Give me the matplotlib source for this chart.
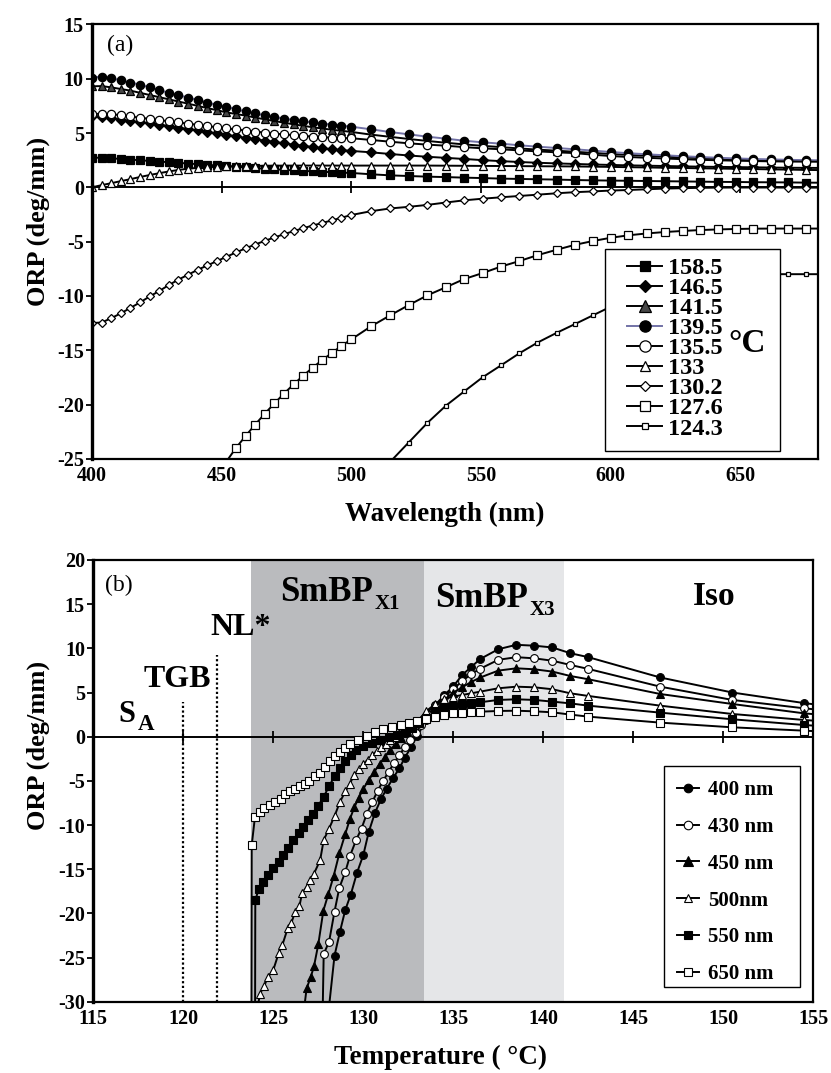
import numpy as np
import matplotlib
matplotlib.use('Agg')
import matplotlib.pyplot as plt
from matplotlib.patches import Rectangle

plt.rcParams['font.family'] = ['Liberation Serif', 'DejaVu Serif']
plt.rcParams['font.weight'] = 'bold'
plt.rcParams['axes.labelweight'] = 'bold'
plt.rcParams['axes.unicode_minus'] = False

nan = np.nan

# ---------------- panel (a): ORP vs wavelength ----------------
wavelength = [400.0, 403.7, 407.4, 411.1, 414.8, 418.5, 422.2, 425.9, 429.6, 433.3,
              437.0, 440.7, 444.4, 448.1, 451.8, 455.5, 459.2, 462.9, 466.6, 470.3,
              474.0, 477.7, 481.4, 485.1, 488.8, 492.5, 496.2, 500.0,
              507.6, 514.9, 522.1, 529.3, 536.5, 543.5, 550.6, 557.7, 564.7, 571.8,
              579.2, 586.2, 593.1, 600.0, 606.9, 613.9, 620.8, 627.8, 634.4, 641.3,
              648.2, 655.0, 661.8, 668.6, 675.3, 682.2]

orp_158_5 = [2.73, 2.72, 2.67, 2.61, 2.55, 2.49, 2.43, 2.37, 2.31, 2.25,
             2.19, 2.13, 2.07, 2.01, 1.95, 1.89, 1.83, 1.77, 1.71, 1.66,
             1.61, 1.56, 1.51, 1.47, 1.43, 1.39, 1.35, 1.32,
             1.2, 1.1, 1.04, 0.98, 0.94, 0.89, 0.85, 0.8, 0.77, 0.74,
             0.71, 0.67, 0.64, 0.62, 0.6, 0.58, 0.56, 0.54, 0.52, 0.5,
             0.49, 0.47, 0.46, 0.45, 0.43, 0.42]
orp_146_5 = [6.6, 6.5, 6.42, 6.2, 6.1, 6.0, 5.88, 5.76, 5.64, 5.5,
             5.36, 5.24, 5.1, 4.97, 4.83, 4.7, 4.55, 4.42, 4.3, 4.18,
             4.05, 3.93, 3.82, 3.71, 3.6, 3.5, 3.42, 3.35,
             3.22, 3.07, 2.93, 2.81, 2.71, 2.61, 2.5, 2.41, 2.33, 2.26,
             2.2, 2.15, 2.1, 2.06, 2.02, 1.99, 1.96, 1.93, 1.9, 1.88,
             1.86, 1.84, 1.82, 1.8, 1.79, 1.78]
orp_141_5 = [9.3, 9.32, 9.2, 9.05, 8.9, 8.7, 8.5, 8.3, 8.1, 7.9,
             7.7, 7.5, 7.3, 7.1, 6.9, 6.75, 6.6, 6.42, 6.26, 6.1,
             5.95, 5.8, 5.66, 5.53, 5.41, 5.3, 5.2, 5.1,
             4.85, 4.65, 4.45, 4.27, 4.1, 3.95, 3.82, 3.7, 3.58, 3.47,
             3.37, 3.27, 3.17, 3.07, 2.98, 2.9, 2.82, 2.75, 2.69, 2.63,
             2.58, 2.53, 2.49, 2.46, 2.44, 2.42]
orp_139_5 = [10.1, 10.2, 10.05, 9.85, 9.65, 9.45, 9.2, 8.95, 8.7, 8.5,
             8.25, 8.05, 7.8, 7.6, 7.4, 7.2, 6.98, 6.8, 6.63, 6.48,
             6.33, 6.2, 6.08, 5.97, 5.87, 5.78, 5.68, 5.58,
             5.34, 5.09, 4.88, 4.66, 4.48, 4.29, 4.14, 4.02, 3.87, 3.74,
             3.62, 3.5, 3.38, 3.25, 3.14, 3.04, 2.95, 2.86, 2.79, 2.72,
             2.66, 2.61, 2.57, 2.53, 2.5, 2.48]
orp_135_5 = [6.75, 6.77, 6.73, 6.64, 6.52, 6.41, 6.3, 6.19, 6.08, 5.97,
             5.86, 5.75, 5.64, 5.53, 5.43, 5.33, 5.23, 5.13, 5.04, 4.95,
             4.87, 4.8, 4.73, 4.67, 4.62, 4.57, 4.54, 4.52,
             4.36, 4.2, 4.05, 3.93, 3.83, 3.7, 3.59, 3.5, 3.4, 3.31,
             3.22, 3.15, 3.0, 2.88, 2.79, 2.72, 2.65, 2.59, 2.53, 2.49,
             2.45, 2.42, 2.39, 2.37, 2.36, 2.35]
orp_133 = [0.0, 0.2, 0.38, 0.57, 0.75, 0.95, 1.13, 1.3, 1.46, 1.6,
           1.71, 1.79, 1.85, 1.89, 1.92, 1.94, 1.96, 1.97, 1.98, 1.99,
           2.0, 2.0, 2.0, 2.0, 2.0, 2.0, 2.0, 2.0,
           2.0, 2.0, 2.0, 2.0, 1.99, 1.98, 1.97, 1.96, 1.95, 1.94,
           1.93, 1.92, 1.9, 1.88, 1.85, 1.83, 1.8, 1.78, 1.75, 1.73,
           1.7, 1.68, 1.65, 1.63, 1.6, 1.58]
orp_130_2 = [-12.5, -12.45, -12.05, -11.6, -11.1, -10.6, -10.05, -9.55, -9.0, -8.5,
             -8.05, -7.6, -7.2, -6.8, -6.4, -6.0, -5.62, -5.27, -4.93, -4.62,
             -4.32, -4.04, -3.77, -3.52, -3.28, -3.05, -2.8, -2.55,
             -2.2, -1.95, -1.8, -1.62, -1.4, -1.2, -1.05, -0.92, -0.8, -0.68,
             -0.55, -0.45, -0.38, -0.3, -0.25, -0.18, -0.12, -0.08, -0.05, -0.03,
             -0.02, -0.02, -0.02, -0.03, -0.03, -0.03]
orp_127_6 = [nan, nan, nan, nan, nan, nan, nan, nan, nan, nan,
             nan, nan, nan, nan, -25.25, -24.0, -22.9, -21.85, -20.85, -19.9,
             -19.0, -18.15, -17.35, -16.6, -15.9, -15.25, -14.6, -14.0,
             -12.8, -11.8, -10.85, -9.95, -9.2, -8.45, -7.9, -7.3, -6.8, -6.25,
             -5.75, -5.3, -4.95, -4.65, -4.42, -4.25, -4.12, -4.02, -3.94, -3.88,
             -3.84, -3.81, -3.8, -3.8, -3.8, -3.8]
orp_124_3 = [nan, nan, nan, nan, nan, nan, nan, nan, nan, nan,
             nan, nan, nan, nan, nan, nan, nan, nan, nan, nan,
             nan, nan, nan, nan, nan, nan, nan, nan,
             nan, -25.3, -23.5, -21.7, -20.1, -18.8, -17.5, -16.4, -15.3, -14.3,
             -13.4, -12.6, -11.8, -11.0, -10.3, -9.7, -9.2, -8.8, -8.5, -8.3,
             -8.15, -8.05, -8.0, -8.0, -8.0, -8.0]

temps_a = ['158.5', '146.5', '141.5', '139.5', '135.5', '133', '130.2', '127.6', '124.3']
series_a = [orp_158_5, orp_146_5, orp_141_5, orp_139_5, orp_135_5,
            orp_133, orp_130_2, orp_127_6, orp_124_3]

# ---------------- panel (b): ORP vs temperature ----------------
t_400 = [128.1, 128.4, 128.7, 129.0, 129.3, 129.65, 130.0, 130.3, 130.65, 131.0,
         131.3, 131.65, 132.0, 132.3, 132.65, 133.0, 133.5, 134.0, 134.5, 135.0,
         135.5, 136.0, 136.5, 137.5, 138.5, 139.5, 140.5, 141.5, 142.5, 146.5,
         150.5, 154.5, 156.5]
v_400 = [-30.5, -24.8, -22.1, -19.6, -17.9, -15.4, -13.4, -10.8, -8.6, -7.0,
         -5.9, -4.7, -3.6, -2.4, -1.2, 0.1, 1.9, 3.6, 4.7, 5.7,
         7.0, 7.9, 8.8, 9.9, 10.4, 10.3, 10.1, 9.45, 9.0, 6.7,
         5.0, 3.8, 3.3]
t_430 = [127.7, 127.8, 128.1, 128.4, 128.67, 129.0, 129.26, 129.6, 129.9, 130.2,
         130.5, 130.8, 131.1, 131.4, 131.7, 132.0, 132.3, 132.6, 132.9, 133.2,
         133.6, 134.0, 134.5, 135.0, 135.5, 136.0, 136.5, 137.5, 138.5, 139.5,
         140.5, 141.5, 142.5, 146.5, 150.5, 154.5, 156.5]
v_430 = [-36.0, -24.6, -23.2, -19.8, -17.1, -15.3, -13.5, -11.7, -10.4, -8.7,
         -7.4, -6.1, -5.0, -4.0, -3.0, -2.1, -1.2, -0.4, 0.4, 1.3,
         2.4, 3.5, 4.5, 5.4, 6.3, 7.1, 7.7, 8.7, 9.0, 8.87,
         8.6, 8.12, 7.67, 5.66, 4.16, 3.21, 2.8]
t_450 = [126.7, 126.85, 127.08, 127.26, 127.5, 127.78, 128.06, 128.35, 128.67, 129.0,
         129.26, 129.5, 129.75, 130.0, 130.3, 130.6, 130.9, 131.2, 131.5, 131.8,
         132.1, 132.4, 132.7, 133.0, 133.5, 134.0, 134.5, 135.0, 135.5, 136.0,
         136.5, 137.5, 138.5, 139.5, 140.5, 141.5, 142.5, 146.5, 150.5, 154.5,
         156.5]
v_450 = [-31.0, -28.5, -27.2, -26.0, -23.5, -19.7, -17.8, -15.8, -13.2, -11.0,
         -9.3, -8.0, -6.9, -5.9, -4.9, -4.0, -3.1, -2.3, -1.5, -0.8,
         -0.1, 0.6, 1.2, 1.8, 2.7, 3.5, 4.2, 5.0, 5.6, 6.2,
         6.7, 7.48, 7.74, 7.63, 7.37, 6.87, 6.5, 4.83, 3.7, 2.64,
         2.3]
t_500 = [124.1, 124.26, 124.5, 124.7, 125.0, 125.3, 125.5, 125.8, 126.0, 126.2,
         126.45, 126.6, 126.85, 127.05, 127.26, 127.6, 127.8, 128.1, 128.4, 128.7,
         129.0, 129.26, 129.5, 129.75, 130.0, 130.25, 130.5, 130.75, 131.0, 131.25,
         131.5, 131.75, 132.0, 132.3, 132.6, 133.0, 133.5, 134.0, 134.5, 135.0,
         135.5, 136.0, 136.5, 137.5, 138.5, 139.5, 140.5, 141.5, 142.5, 146.5,
         150.5, 154.5, 156.5]
v_500 = [-31.0, -29.1, -28.2, -27.2, -26.4, -24.5, -23.6, -21.7, -21.1, -19.9,
         -19.2, -17.7, -17.0, -16.2, -15.5, -14.0, -11.7, -10.4, -9.0, -7.4,
         -6.2, -5.3, -4.3, -3.7, -3.1, -2.6, -2.1, -1.6, -1.2, -0.8,
         -0.4, 0.0, 0.4, 0.8, 1.2, 1.7, 2.9, 3.7, 4.27, 4.53,
         4.72, 4.91, 5.1, 5.48, 5.66, 5.59, 5.37, 4.91, 4.61, 3.51,
         2.57, 1.89, 1.6]
t_550 = [123.98, 124.0, 124.2, 124.45, 124.7, 125.0, 125.3, 125.55, 125.8, 126.1,
         126.4, 126.65, 126.9, 127.2, 127.5, 127.8, 128.1, 128.4, 128.7, 129.0,
         129.3, 129.6, 130.0, 130.5, 130.9, 131.4, 131.85, 132.3, 132.7, 133.1,
         133.5, 134.0, 134.5, 135.0, 135.5, 136.0, 136.5, 137.5, 138.5, 139.5,
         140.5, 141.5, 142.5, 146.5, 150.5, 154.5, 156.5]
v_550 = [-40.0, -18.5, -17.2, -16.4, -15.7, -14.9, -14.2, -13.4, -12.6, -11.7,
         -10.9, -10.2, -9.4, -8.7, -7.8, -6.8, -5.6, -4.5, -3.6, -2.8,
         -2.1, -1.5, -1.05, -0.68, -0.37, -0.07, 0.19, 0.55, 0.95, 1.5,
         2.1, 2.9, 3.4, 3.51, 3.66, 3.77, 3.9, 4.16, 4.23, 4.16,
         3.97, 3.77, 3.51, 2.72, 1.97, 1.32, 1.05]
t_650 = [123.78, 123.8, 123.98, 124.26, 124.5, 124.8, 125.1, 125.4, 125.65, 125.9,
         126.2, 126.5, 126.75, 127.0, 127.3, 127.6, 127.85, 128.15, 128.4, 128.7,
         129.0, 129.26, 129.7, 130.2, 130.65, 131.1, 131.6, 132.1, 132.55, 133.0,
         133.5, 134.0, 134.5, 135.0, 135.5, 136.0, 136.5, 137.5, 138.5, 139.5,
         140.5, 141.5, 142.5, 146.5, 150.5, 154.5, 156.5]
v_650 = [-40.0, -12.3, -9.1, -8.5, -8.1, -7.7, -7.4, -7.0, -6.5, -6.2,
         -5.9, -5.6, -5.3, -5.0, -4.5, -4.1, -3.4, -2.7, -2.2, -1.7,
         -1.25, -0.8, -0.37, 0.1, 0.57, 0.9, 1.13, 1.3, 1.6, 1.8,
         1.97, 2.2, 2.45, 2.64, 2.72, 2.8, 2.83, 2.91, 2.94, 2.87,
         2.76, 2.5, 2.27, 1.59, 1.06, 0.68, 0.5]

labels_b = ['400 nm', '430 nm', '450 nm', '500nm', '550 nm', '650 nm']
series_b = [(t_400, v_400), (t_430, v_430), (t_450, v_450),
            (t_500, v_500), (t_550, v_550), (t_650, v_650)]

phase_bounds = [123.76, 133.37, 141.15]
transition_T = [120.0, 121.85]
transition_top = [3.96, 9.25]

# ---------------- figure ----------------
W, H = 831, 1073
fig = plt.figure(figsize=(W / 100, H / 100), dpi=100)


def fx(px):
    return px / W


def fy(py):
    return 1 - py / H


ax1 = fig.add_axes([fx(92.1), fy(458.8), (818 - 92.1) / W, (458.8 - 24.4) / H])
ax2 = fig.add_axes([fx(93.3), fy(1001.7), (813.3 - 93.3) / W, (1001.7 - 560) / H])

xlim1, ylim1 = (400, 680), (-25, 15)
xlim2, ylim2 = (115, 155), (-30, 20)

style_a = [
    dict(marker='s', ms=5.2, mfc='black', mec='black', color='black'),
    dict(marker='D', ms=4.6, mfc='black', mec='black', color='black'),
    dict(marker='^', ms=6.3, mfc='#474747', mec='black', color='black'),
    dict(marker='o', ms=6.0, mfc='black', mec='black', color='#7272a6'),
    dict(marker='o', ms=6.0, mfc='white', mec='black', color='black'),
    dict(marker='^', ms=5.6, mfc='white', mec='black', color='black'),
    dict(marker='D', ms=3.9, mfc='white', mec='black', color='black'),
    dict(marker='s', ms=5.4, mfc='white', mec='black', color='black'),
    dict(marker='s', ms=3.4, mfc='white', mec='black', color='black'),
]

handles_a = []
for lab, vals, st in zip(temps_a, series_a, style_a):
    x = np.array(wavelength)
    y = np.array(vals, dtype=float)
    mk = [i for i in range(len(x)) if np.isfinite(y[i]) and y[i] >= ylim1[0] and x[i] <= xlim1[1]]
    ln, = ax1.plot(x, y, lw=1.4, mew=0.9, markevery=mk, label=lab, zorder=2, **st)
    handles_a.append(ln)

ax1.set_xlim(*xlim1)
ax1.set_ylim(*ylim1)
ax1.set_xticks([400, 450, 500, 550, 600, 650])
ax1.set_yticks([-25, -20, -15, -10, -5, 0, 5, 10, 15])
ax1.tick_params(axis='x', length=0, pad=5, labelsize=14.5)
ax1.tick_params(axis='y', direction='out', length=4.5, width=1.3, pad=1.5, labelsize=14.5)

# zero line with crossing ticks
sec1 = ax1.secondary_xaxis((0 - ylim1[0]) / (ylim1[1] - ylim1[0]))
sec1.set_xticks([400, 450, 500, 550, 600, 650])
sec1.xaxis.set_ticks_position('bottom')
sec1.tick_params(axis='x', direction='inout', length=8, width=1.3, labelbottom=False, labeltop=False)
for s in sec1.spines.values():
    s.set_linewidth(1.4)

for k, s in ax1.spines.items():
    s.set_linewidth(1.6)
ax1.spines['left'].set_linewidth(2.4)

ax1.set_xlabel('Wavelength (nm)', fontsize=19.5, fontweight='bold', va='center')
ax1.xaxis.set_label_coords((445 - 92.1) / 725.9, -(514 - 458.8) / 434.4)
ax1.set_ylabel('ORP (deg/mm)', fontsize=19, fontweight='bold', va='center')
ax1.yaxis.set_label_coords((38 - 92.1) / 725.9, (458.8 - 221) / 434.4)

# legend (a)
ax1.add_patch(Rectangle((fx(605), fy(451)), (780 - 605) / W, (451 - 249) / H,
                        transform=fig.transFigure, fc='white', ec='black', lw=1.0,
                        zorder=4, clip_on=False))
leg1 = ax1.legend(handles_a, temps_a, loc='upper left',
                  bbox_to_anchor=(fx(627), fy(257)), bbox_transform=fig.transFigure,
                  frameon=False, borderpad=0, borderaxespad=0, handlelength=1.45,
                  handletextpad=0.25, labelspacing=-0.08, markerscale=1.35,
                  prop=dict(family='Liberation Serif', weight='bold', size=17.5))
leg1.set_zorder(5)
fig.text(fx(747), fy(343), '°C', fontsize=24, fontweight='bold', ha='center', va='center')
fig.text(fx(107), fy(45.5), '(a)', fontsize=17, fontweight='normal', ha='left', va='center')

# ---------------- panel (b) ----------------
ax2.axvspan(phase_bounds[0], phase_bounds[1], color='#babbbe', lw=0, zorder=0)
ax2.axvspan(phase_bounds[1], phase_bounds[2], color='#e5e6e8', lw=0, zorder=0)
ax2.vlines(transition_T, ylim2[0], transition_top, colors='black', lw=1.6,
           linestyles=(0, (1, 1.1)), zorder=1)

style_b = [
    dict(marker='o', ms=5.6, mfc='black', mec='black'),
    dict(marker='o', ms=5.6, mfc='white', mec='black'),
    dict(marker='^', ms=6.2, mfc='black', mec='black'),
    dict(marker='^', ms=5.8, mfc='white', mec='black'),
    dict(marker='s', ms=5.4, mfc='black', mec='black'),
    dict(marker='s', ms=5.4, mfc='white', mec='black'),
]
handles_b = []
for lab, (tt, vv), st in zip(labels_b, series_b, style_b):
    x = np.array(tt)
    y = np.array(vv, dtype=float)
    mk = [i for i in range(len(x)) if y[i] >= ylim2[0] and x[i] <= xlim2[1]]
    ln, = ax2.plot(x, y, color='black', lw=1.4, mew=0.8, markevery=mk, label=lab, zorder=2, **st)
    handles_b.append(ln)

ax2.set_xlim(*xlim2)
ax2.set_ylim(*ylim2)
ax2.set_xticks(np.arange(115, 156, 5))
ax2.set_yticks(np.arange(-30, 21, 5))
ax2.tick_params(axis='x', length=0, pad=5, labelsize=14.5)
ax2.tick_params(axis='y', direction='out', length=4.5, width=1.3, pad=1.5, labelsize=14.5)

sec2 = ax2.secondary_xaxis((0 - ylim2[0]) / (ylim2[1] - ylim2[0]))
sec2.set_xticks(np.arange(115, 156, 5))
sec2.xaxis.set_ticks_position('bottom')
sec2.tick_params(axis='x', direction='inout', length=8, width=1.3, labelbottom=False, labeltop=False)
for s in sec2.spines.values():
    s.set_linewidth(1.4)

for k, s in ax2.spines.items():
    s.set_linewidth(1.6)
ax2.spines['left'].set_linewidth(2.4)

ax2.set_xlabel('Temperature ( °C)', fontsize=19.5, fontweight='bold', va='center')
ax2.xaxis.set_label_coords((440 - 93.3) / 720, -(1057 - 1001.7) / 441.7)
ax2.set_ylabel('ORP (deg/mm)', fontsize=19, fontweight='bold', va='center')
ax2.yaxis.set_label_coords((38 - 93.3) / 720, (1001.7 - 745) / 441.7)

# phase labels
t1 = ax2.text(125.4, 15.4, 'SmBP', fontsize=25, ha='left', va='baseline')
ax2.annotate('X1', xy=(1, 0), xycoords=t1, xytext=(1.0, 0), textcoords='offset points',
             fontsize=15, ha='left', va='baseline')
t3 = ax2.text(134.0, 14.7, 'SmBP', fontsize=25, ha='left', va='baseline')
ax2.annotate('X3', xy=(1, 0), xycoords=t3, xytext=(1.0, 0), textcoords='offset points',
             fontsize=15, ha='left', va='baseline')
ax2.text(148.3, 14.9, 'Iso', fontsize=24, ha='left', va='baseline')
ax2.text(121.48, 11.5, 'NL*', fontsize=23, ha='left', va='baseline')
ax2.text(117.78, 5.66, 'TGB', fontsize=23, ha='left', va='baseline')
tS = ax2.text(116.38, 1.66, 'S', fontsize=22, ha='left', va='baseline')
ax2.annotate('A', xy=(1, 0), xycoords=tS, xytext=(2, -1), textcoords='offset points',
             fontsize=16.5, ha='left', va='baseline')
fig.text(fx(105), fy(585), '(b)', fontsize=17, fontweight='normal', ha='left', va='center')

# legend (b)
ax2.add_patch(Rectangle((fx(664), fy(987)), (800 - 664) / W, (987 - 766) / H,
                        transform=fig.transFigure, fc='white', ec='black', lw=1.0,
                        zorder=4, clip_on=False))
leg2 = ax2.legend(handles_b, labels_b, loc='upper left',
                  bbox_to_anchor=(fx(677), fy(780)), bbox_transform=fig.transFigure,
                  frameon=False, borderpad=0, borderaxespad=0, handlelength=1.05,
                  handletextpad=0.45, labelspacing=0.81, markerscale=1.1,
                  prop=dict(family='Liberation Serif', weight='bold', size=15))
leg2.set_zorder(5)

fig.savefig('out.png', dpi=100)
